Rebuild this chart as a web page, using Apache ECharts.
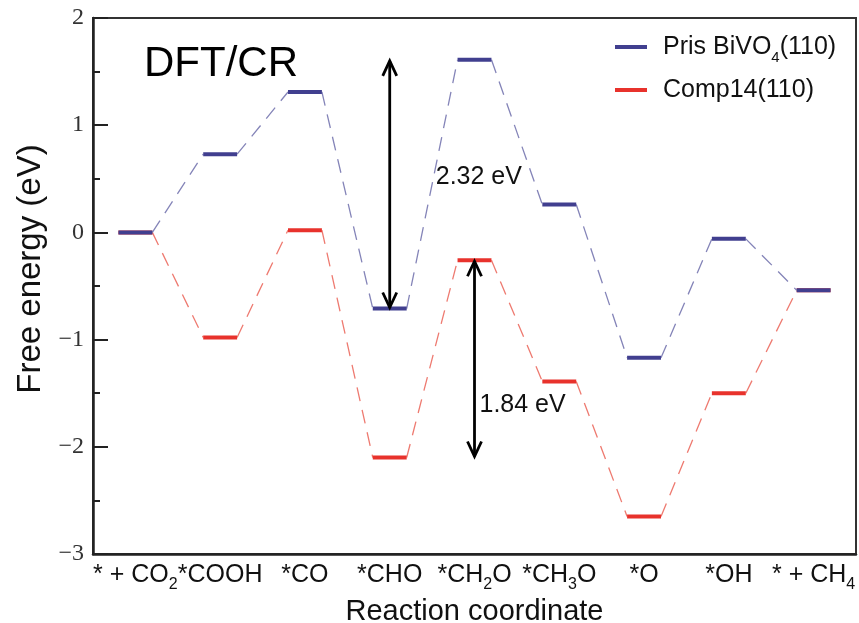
<!DOCTYPE html>
<html>
<head>
<meta charset="utf-8">
<script src="https://cdn.jsdelivr.net/npm/echarts@6/dist/echarts.min.js"></script>
<style>
  html, body { margin: 0; padding: 0; background: #fff; }
  #chart { width: 859px; height: 623px; }
</style>
</head>
<body>
<div id="chart"></div>
<script>
// ---- data ----
const categories = ['* + CO2', '*COOH', '*CO', '*CHO', '*CH2O', '*CH3O', '*O', '*OH', '* + CH4'];
const seriesNames = ['Pris BiVO4(110)', 'Comp14(110)'];
const prisValues = [0, 0.73, 1.31, -0.71, 1.61, 0.26, -1.17, -0.06, -0.54];
const compValues = [0, -0.98, 0.02, -2.10, -0.26, -1.39, -2.65, -1.50, -0.54];
const yTicks = [-3, -2, -1, 0, 1, 2];
// annotation arrows: category index, top value, bottom value, label, label centre value
const arrowX = [3, 4];
const arrowTop = [prisValues[4], compValues[4]];
const arrowBottom = [prisValues[3], compValues[3]];
const arrowLabels = ['2.32 eV', '1.84 eV'];
const arrowLabelValue = [0.52, -1.61];

// ---- styles ----
const SANS = '"Liberation Sans", Arial, sans-serif';
const SERIF = '"Liberation Serif", "Times New Roman", serif';
const BLUE = '#413f8f', BLUE_DASH = '#8484b8';
const RED = '#e8322c', RED_DASH = '#ee7a70';
const labelDx = [46, 5];

function levelSeries(name, vals, barColor, dashColor) {
  return {
    name: name,
    type: 'custom',
    itemStyle: { color: barColor },
    encode: { x: 0, y: 1 },
    data: vals.map((v, i) => [i, v, i < vals.length - 1 ? vals[i + 1] : null]),
    renderItem: function (params, api) {
      const i = api.value(0), v = api.value(1), nv = api.value(2);
      const w = api.size([1, 0])[0];
      const half = w * 0.2;
      const c = api.coord([i, v]);
      const children = [];
      if (nv != null && !isNaN(nv)) {
        const n = api.coord([i + 1, nv]);
        children.push({
          type: 'line',
          shape: { x1: c[0] + half, y1: c[1], x2: n[0] - half, y2: n[1] },
          style: { stroke: dashColor, lineWidth: 1.3, lineDash: [14, 9] }
        });
      }
      children.push({
        type: 'line',
        shape: { x1: c[0] - half, y1: c[1], x2: c[0] + half, y2: c[1] },
        style: { stroke: barColor, lineWidth: 4 }
      });
      return { type: 'group', children: children };
    }
  };
}

const arrowSeries = {
  name: 'arrows',
  type: 'custom',
  z: 10,
  encode: { x: 0, y: 1 },
  data: arrowX.map((x, k) => [x, arrowTop[k], arrowBottom[k], arrowLabelValue[k], k]),
  renderItem: function (params, api) {
    const x = api.value(0);
    const k = api.value(4);
    const t = api.coord([x, api.value(1)]);
    const b = api.coord([x, api.value(2)]);
    const lc = api.coord([x, api.value(3)]);
    const h = 16, hw = 7;
    const st = { stroke: '#000', lineWidth: 2.8, fill: null };
    return {
      type: 'group',
      children: [
        { type: 'line', shape: { x1: t[0], y1: t[1] + 1, x2: b[0], y2: b[1] - 1 }, style: st },
        { type: 'polyline', shape: { points: [[t[0] - hw, t[1] + h], [t[0], t[1] + 1], [t[0] + hw, t[1] + h]] }, style: st },
        { type: 'polyline', shape: { points: [[b[0] - hw, b[1] - h], [b[0], b[1] - 1], [b[0] + hw, b[1] - h]] }, style: st },
        {
          type: 'text',
          x: lc[0] + labelDx[k],
          y: lc[1],
          style: {
            text: arrowLabels[k], fill: '#111',
            font: '25px ' + SANS,
            align: 'left', verticalAlign: 'middle',
            textAlign: 'left', textVerticalAlign: 'middle'
          }
        }
      ]
    };
  }
};

const chart = echarts.init(document.getElementById('chart'), null, { renderer: 'canvas' });
chart.setOption({
  animation: false,
  backgroundColor: '#fff',
  title: {
    text: 'DFT/CR',
    left: 144,
    top: 43,
    padding: 0,
    textStyle: { fontSize: 42, fontWeight: 'normal', fontFamily: SANS, color: '#000' }
  },
  legend: {
    orient: 'vertical',
    left: 615,
    top: 29,
    padding: 0,
    itemWidth: 32,
    itemHeight: 4,
    itemGap: 7,
    icon: 'rect',
    data: [
      { name: seriesNames[0], itemStyle: { color: BLUE } },
      { name: seriesNames[1], itemStyle: { color: RED } }
    ],
    formatter: function (name) { return name.replace('BiVO4', 'BiVO{s|4}'); },
    textStyle: {
      fontSize: 25, fontFamily: SANS, color: '#111', lineHeight: 36,
      padding: [0, 0, 0, 11],
      rich: {
        s: { fontSize: 15, fontFamily: SANS, color: '#111', padding: [21, 0, 0, 0] }
      }
    }
  },
  grid: {
    left: 93, right: 3, top: 18, bottom: 69,
    outerBoundsMode: 'none',
    containLabel: false,
    show: true, borderColor: '#333', borderWidth: 2
  },
  xAxis: {
    type: 'category',
    data: categories,
    boundaryGap: true,
    name: 'Reaction coordinate',
    nameLocation: 'middle',
    nameGap: 40,
    nameTextStyle: { fontSize: 29, fontFamily: SANS, color: '#111' },
    axisLine: { onZero: false, lineStyle: { color: '#222', width: 2.5 } },
    axisTick: { inside: true, alignWithLabel: true, length: 15, lineStyle: { color: '#222', width: 2 } },
    axisLabel: {
      interval: 0,
      margin: 3,
      fontSize: 25,
      fontFamily: SANS,
      color: '#111',
      lineHeight: 36,
      formatter: function (v) { return v.replace(/(\d)/g, '{s|$1}'); },
      rich: {
        s: { fontSize: 16, fontFamily: SANS, color: '#111', padding: [20, 0, 0, 0] }
      }
    },
    splitLine: { show: false }
  },
  yAxis: {
    type: 'value',
    min: yTicks[0],
    max: yTicks[yTicks.length - 1],
    interval: 1,
    name: 'Free energy (eV)',
    nameLocation: 'middle',
    nameGap: 43,
    nameTextStyle: { fontSize: 33, fontFamily: SANS, color: '#111', padding: [0, 0, 0, 34] },
    axisLine: { show: true, onZero: false, lineStyle: { color: '#222', width: 2.5 } },
    axisTick: { show: true, inside: true, length: 15, lineStyle: { color: '#222', width: 2 } },
    minorTick: { show: true, splitNumber: 2, length: 7, lineStyle: { color: '#222', width: 2 } },
    axisLabel: {
      margin: 9,
      fontSize: 24,
      fontFamily: SERIF,
      color: '#333',
      formatter: function (v) { return v < 0 ? '\u2212' + Math.abs(v) : String(v); }
    },
    splitLine: { show: false },
    minorSplitLine: { show: false }
  },
  series: [
    levelSeries(seriesNames[1], compValues, RED, RED_DASH),
    levelSeries(seriesNames[0], prisValues, BLUE, BLUE_DASH),
    arrowSeries
  ]
});
</script>
</body>
</html>
